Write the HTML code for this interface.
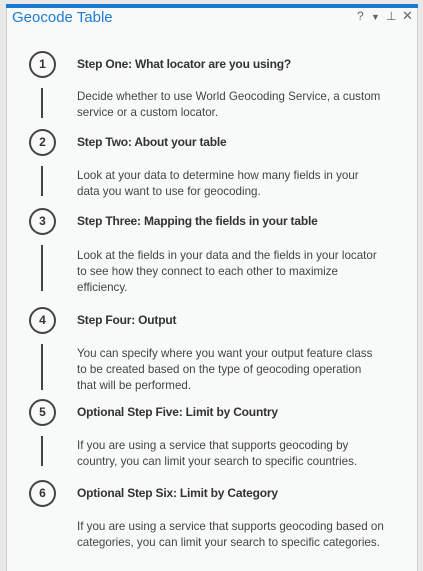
<!DOCTYPE html>
<html><head><meta charset="utf-8"><style>
body{margin:0;width:423px;height:571px;background:#e9e9e9;font-family:"Liberation Sans",sans-serif;position:relative;overflow:hidden}
#panel{position:absolute;left:6px;top:4px;width:412px;height:567px;background:#f8f9f9;border-left:1px solid #cfcfcf;border-right:1px solid #cfcfcf;box-sizing:border-box}
#bar{position:absolute;left:6px;top:4px;width:412px;height:4px;background:#1a7ad1}
#title{position:absolute;left:12px;top:9px;font-size:15px;color:#1f7ed0}
.ctl{position:absolute;top:9px;font-size:12px;color:#666}
.c{position:absolute;left:29px;width:23px;height:23px;border:2px solid #444;border-radius:50%;text-align:center;line-height:23px;font-size:12px;font-weight:bold;color:#333}
.h{position:absolute;left:77px;font-size:12px;font-weight:bold;color:#333;letter-spacing:-0.2px}
.d{position:absolute;left:77px;font-size:11.6px;color:#444;line-height:16px;white-space:nowrap}
.v{position:absolute;left:41px;width:2px;background:#444}
</style></head><body>
<div id="panel"></div>
<div id="bar"></div>
<div id="title">Geocode Table</div>
<div class="ctl" style="left:357px">?</div>
<div class="ctl" style="left:371px;font-size:9px;top:12px">▼</div>
<div class="ctl" style="left:386px">⊥</div>
<div class="ctl" style="left:402px;font-size:13px;top:8px">✕</div>

<div class="c" style="top:51px">1</div>
<div class="h" style="top:57px">Step One: What locator are you using?</div>
<div class="v" style="top:88px;height:30px"></div>
<div class="d" style="top:89px">Decide whether to use World Geocoding Service, a custom<br>service or a custom locator.</div>

<div class="c" style="top:129px">2</div>
<div class="h" style="top:135px">Step Two: About your table</div>
<div class="v" style="top:166px;height:30px"></div>
<div class="d" style="top:168px">Look at your data to determine how many fields in your<br>data you want to use for geocoding.</div>

<div class="c" style="top:208px">3</div>
<div class="h" style="top:214px">Step Three: Mapping the fields in your table</div>
<div class="v" style="top:245px;height:46px"></div>
<div class="d" style="top:248px">Look at the fields in your data and the fields in your locator<br>to see how they connect to each other to maximize<br>efficiency.</div>

<div class="c" style="top:307px">4</div>
<div class="h" style="top:313px">Step Four: Output</div>
<div class="v" style="top:344px;height:46px"></div>
<div class="d" style="top:346px">You can specify where you want your output feature class<br>to be created based on the type of geocoding operation<br>that will be performed.</div>

<div class="c" style="top:399px">5</div>
<div class="h" style="top:405px">Optional Step Five: Limit by Country</div>
<div class="v" style="top:436px;height:30px"></div>
<div class="d" style="top:438px">If you are using a service that supports geocoding by<br>country, you can limit your search to specific countries.</div>

<div class="c" style="top:480px">6</div>
<div class="h" style="top:486px">Optional Step Six: Limit by Category</div>
<div class="d" style="top:519px">If you are using a service that supports geocoding based on<br>categories, you can limit your search to specific categories.</div>
</body></html>
